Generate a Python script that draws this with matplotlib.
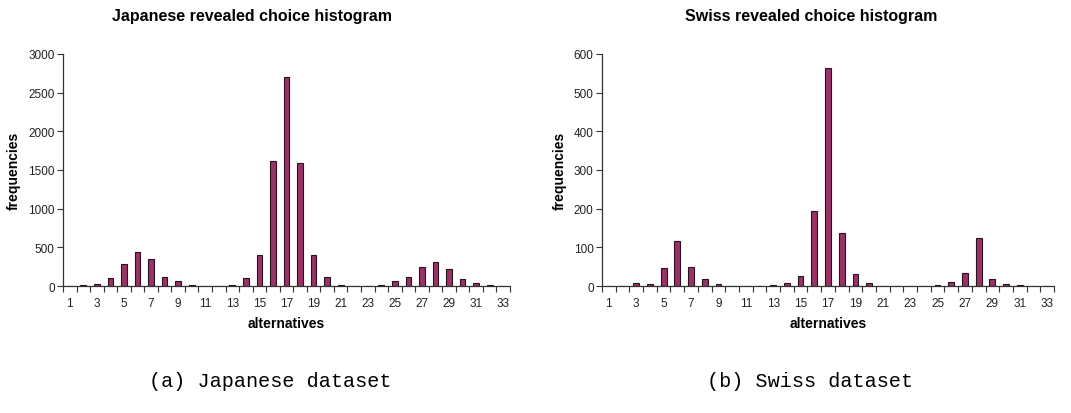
import matplotlib
matplotlib.use("Agg")
import matplotlib.pyplot as plt
import numpy as np

alternatives = list(range(1, 34))
japanese_freq = [0, 10, 25, 100, 280, 445, 350, 110, 60, 15, 0, 0, 10, 100, 400,
                 1617, 2702, 1595, 406, 121, 15, 0, 0, 15, 60, 121, 246, 315, 225,
                 86, 39, 15, 0]
swiss_freq = [0, 0, 8, 6, 46, 117, 49, 17, 5, 0, 0, 0, 3, 8, 27, 193, 564, 137,
              31, 8, 0, 0, 0, 0, 3, 10, 34, 124, 17, 5, 3, 0, 0]

titles = ["Japanese revealed choice histogram", "Swiss revealed choice histogram"]
captions = ["(a) Japanese dataset", "(b) Swiss dataset"]
yticks = [[0, 500, 1000, 1500, 2000, 2500, 3000], [0, 100, 200, 300, 400, 500, 600]]

BAR = "#993366"
EDGE = "#2a1020"
AXIS = "#333333"

plt.rcParams["font.family"] = ["Liberation Sans", "DejaVu Sans"]

fig = plt.figure(figsize=(10.71, 4.14), dpi=100, facecolor="white")
boxes = [[63 / 1071, 127 / 414, 447 / 1071, 232 / 414],
         [602 / 1071, 127 / 414, 452 / 1071, 232 / 414]]
title_x = [252 / 1071, 811 / 1071]
cap_x = [270 / 1071, 810 / 1071]

for i, data in enumerate([japanese_freq, swiss_freq]):
    ax = fig.add_axes(boxes[i])
    x = np.arange(len(alternatives))
    ax.bar(x, data, width=0.42, color=BAR, edgecolor=EDGE, linewidth=0.8, zorder=2)
    ax.set_xlim(-0.5, len(alternatives) - 0.5)
    ax.set_ylim(0, yticks[i][-1])
    ax.set_yticks(yticks[i])
    ax.set_yticklabels([str(v) for v in yticks[i]], fontsize=8.5, color="#222222")
    # category labels for odd alternatives, tick marks at category boundaries
    ax.set_xticks(x[::2])
    ax.set_xticklabels([str(a) for a in alternatives[::2]], fontsize=8.5, color="#222222")
    ax.tick_params(axis="x", length=0, pad=8)
    ax.set_xticks(np.arange(-0.5, len(alternatives)), minor=True)
    ax.tick_params(axis="x", which="minor", length=4, width=0.8, color=AXIS, direction="out")
    ax.tick_params(axis="y", length=4, width=0.8, color=AXIS, direction="out", pad=2)
    for s in ["top", "right"]:
        ax.spines[s].set_visible(False)
    for s in ["left", "bottom"]:
        ax.spines[s].set_color(AXIS)
        ax.spines[s].set_linewidth(0.9)
    ax.set_xlabel("alternatives", fontsize=10, fontweight="bold", labelpad=5)
    ax.set_ylabel("frequencies", fontsize=10, fontweight="bold", labelpad=5)
    fig.text(title_x[i], 1 - 17 / 414, titles[i], ha="center", va="center",
             fontsize=11.5, fontweight="bold")
    fig.text(cap_x[i], 1 - 382 / 414, captions[i], ha="center", va="center",
             fontsize=14.5, family=["Liberation Mono", "DejaVu Sans Mono"])

fig.savefig("out.png", dpi=100)
